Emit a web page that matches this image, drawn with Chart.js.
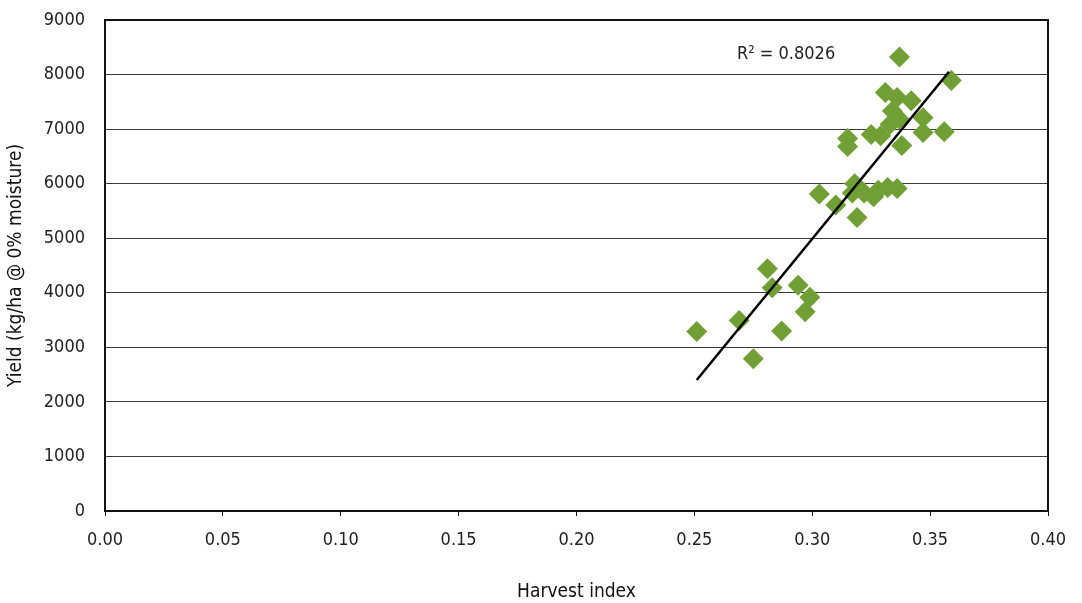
<!DOCTYPE html>
<html>
<head>
<meta charset="utf-8">
<title>Yield vs harvest index</title>
<script src="https://cdn.jsdelivr.net/npm/chart.js@4.4.1/dist/chart.umd.min.js"></script>
<style>
  html, body { margin: 0; padding: 0; background: #fff; }
  #chart { display: block; }
</style>
</head>
<body>
<canvas id="chart" width="1082" height="603"></canvas>
<script>
// Harvest index (x) and yield in kg/ha @ 0% moisture (y)
var harvestIndex = [0.251, 0.269, 0.275, 0.281, 0.283, 0.287, 0.294, 0.299, 0.297,
  0.303, 0.310, 0.319, 0.318, 0.317, 0.322, 0.326, 0.328, 0.332, 0.336,
  0.315, 0.315, 0.325, 0.329, 0.338, 0.331, 0.336, 0.342, 0.334, 0.347,
  0.337, 0.333, 0.347, 0.356, 0.337, 0.359];
var yieldValues = [3290, 3490, 2790, 4440, 4090, 3300, 4140, 3920, 3650,
  5810, 5610, 5380, 6000, 5830, 5830, 5760, 5880, 5930, 5910,
  6830, 6680, 6900, 6880, 6700, 7670, 7580, 7520, 7330, 7210,
  7180, 7090, 6940, 6950, 8320, 7890];

// linear trend line end points
var trendX = [0.251, 0.358];
var trendY = [2400, 8050];

var r2Text = 'R\u00B2 = 0.8026';
var r2Pos = [0.2889, 8376];

var xTicks = [0, 0.05, 0.10, 0.15, 0.20, 0.25, 0.30, 0.35, 0.40];
var yMax = 9000;
var yStep = 1000;

var fontFamily = "'DejaVu Sans', sans-serif";
// chart.js puts the weight straight into the canvas font string, so the
// width keyword can ride along there to get the condensed face
var narrow = 'condensed';

function toPoints(xs, ys) {
  var pts = [];
  for (var i = 0; i < xs.length; i++) {
    pts.push({ x: xs[i], y: ys[i] });
  }
  return pts;
}

// border round the plot area and the R² note
var plotExtras = {
  id: 'plotExtras',
  beforeDatasetsDraw: function (chart) {
    var a = chart.chartArea;
    var ctx = chart.ctx;
    ctx.save();
    ctx.strokeStyle = '#111';
    ctx.lineWidth = 2;
    ctx.strokeRect(a.left, a.top, a.right - a.left, a.bottom - a.top);
    ctx.restore();
  },
  afterDraw: function (chart) {
    var ctx = chart.ctx;
    var x = chart.scales.x.getPixelForValue(r2Pos[0]);
    var y = chart.scales.y.getPixelForValue(r2Pos[1]);
    ctx.save();
    ctx.font = narrow + ' 18px ' + fontFamily;
    ctx.fillStyle = '#222';
    ctx.textAlign = 'center';
    ctx.textBaseline = 'middle';
    ctx.fillText(r2Text, x, y);
    ctx.restore();
  }
};

var chart = new Chart(document.getElementById('chart').getContext('2d'), {
  type: 'scatter',
  data: {
    datasets: [
      {
        label: 'Trend',
        data: toPoints(trendX, trendY),
        showLine: true,
        borderColor: '#000',
        borderWidth: 2.5,
        pointRadius: 0,
        fill: false,
        order: 0
      },
      {
        label: 'Yield',
        data: toPoints(harvestIndex, yieldValues),
        pointStyle: 'rectRot',
        pointRadius: 10.5,
        pointHoverRadius: 10.5,
        backgroundColor: '#70A035',
        borderWidth: 0,
        order: 1
      }
    ]
  },
  options: {
    responsive: false,
    animation: false,
    layout: { padding: { top: 20, right: 34, left: 0, bottom: 0 } },
    plugins: {
      legend: { display: false },
      tooltip: { enabled: false }
    },
    scales: {
      x: {
        type: 'linear',
        min: 0,
        max: 0.4,
        afterBuildTicks: function (scale) {
          scale.ticks = xTicks.map(function (v) { return { value: v }; });
        },
        afterFit: function (scale) { scale.height = 92; },
        ticks: {
          padding: 14,
          color: '#222',
          font: { family: fontFamily, size: 18, weight: narrow },
          callback: function (v) { return Number(v).toFixed(2); }
        },
        grid: {
          drawOnChartArea: false,
          drawTicks: true,
          tickLength: 5,
          color: '#111'
        },
        border: { color: '#111', width: 2 },
        title: {
          display: true,
          text: 'Harvest index',
          color: '#111',
          font: { family: fontFamily, size: 19, weight: narrow },
          padding: { top: 0, bottom: 0 }
        }
      },
      y: {
        min: 0,
        max: yMax,
        afterFit: function (scale) { scale.width = 105; },
        ticks: {
          stepSize: yStep,
          padding: 0,
          color: '#222',
          font: { family: fontFamily, size: 18, weight: narrow },
          callback: function (v) { return String(v); }
        },
        grid: {
          drawTicks: true,
          tickLength: 20,
          tickColor: 'rgba(0,0,0,0)',
          color: '#3a3a3a',
          lineWidth: 1
        },
        border: { color: '#111', width: 2 },
        title: {
          display: true,
          text: 'Yield (kg/ha @ 0% moisture)',
          color: '#111',
          font: { family: fontFamily, size: 19, weight: narrow },
          padding: { top: 5, bottom: 0 }
        }
      }
    }
  },
  plugins: [plotExtras]
});
</script>
</body>
</html>
